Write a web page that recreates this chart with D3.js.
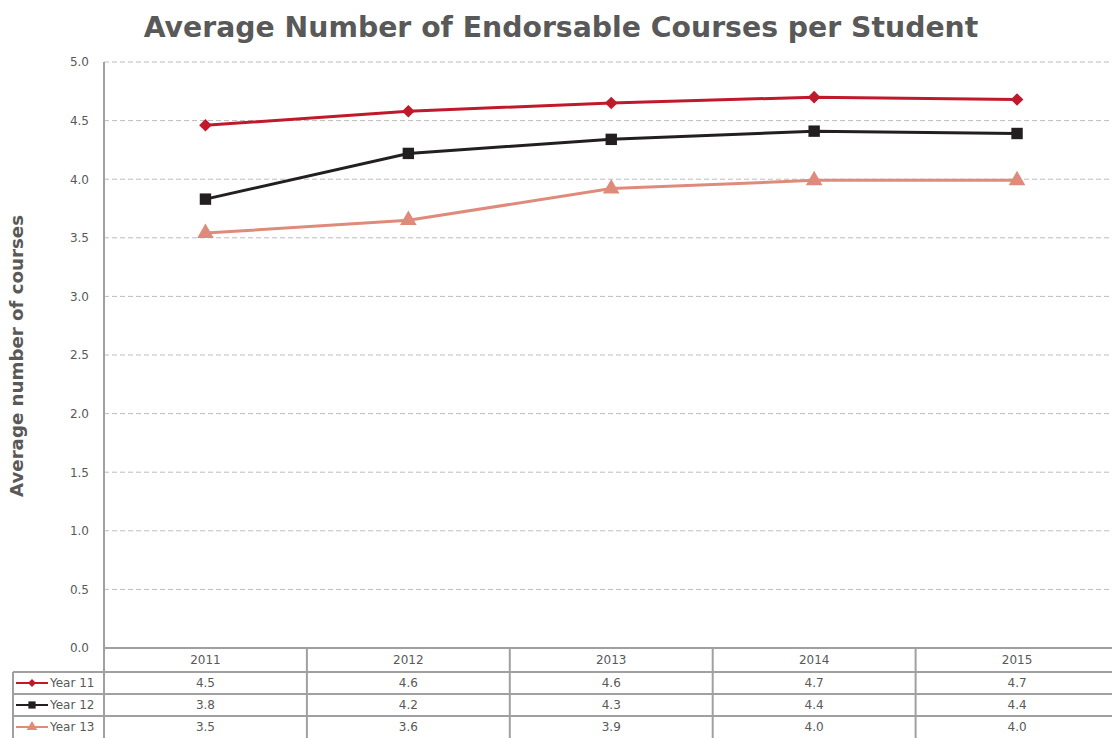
<!DOCTYPE html>
<html><head><meta charset="utf-8">
<script src="https://cdn.jsdelivr.net/npm/d3@7"></script>
<style>body{margin:0;background:#fff;}svg{display:block;font-family:Verdana,"DejaVu Sans",sans-serif;}</style>
</head><body><svg id="c" width="1112" height="738"></svg>
<script>
const years = ["2011","2012","2013","2014","2015"];
const seriesNames = ["Year 11","Year 12","Year 13"];
const year11 = [4.46,4.58,4.65,4.70,4.68];
const year12 = [3.83,4.22,4.34,4.41,4.39];
const year13 = [3.54,3.65,3.92,3.99,3.99];
const tableLabels11 = ["4.5","4.6","4.6","4.7","4.7"];
const tableLabels12 = ["3.8","4.2","4.3","4.4","4.4"];
const tableLabels13 = ["3.5","3.6","3.9","4.0","4.0"];
const yTicks = [0,0.5,1,1.5,2,2.5,3,3.5,4,4.5,5];

(function(){
const colors = ["#c0192c","#231f20","#df8b7b"];
const symbols = [d3.symbolSquare, d3.symbolSquare, d3.symbolTriangle];
const rotations = [45, 0, 0];
const symSizes = [80, 130, 120];
const values = [year11, year12, year13];
const tableLabels = [tableLabels11, tableLabels12, tableLabels13];

const svg = d3.select("#c");
const pLeft = 104, pRight = 1118.5, pTop = 62, pBottom = 648;
const x = d3.scaleBand().domain(years).range([pLeft, pRight]);
const y = d3.scaleLinear().domain([0,5]).range([pBottom, pTop]);
const textCol = "#595959";

svg.append("text").attr("x", 561).attr("y", 37).attr("text-anchor","middle")
  .attr("font-size", 28.3).attr("font-weight","bold").attr("fill", textCol)
  .text("Average Number of Endorsable Courses per Student");

svg.append("text").attr("transform","translate(23,356) rotate(-90)")
  .attr("text-anchor","middle").attr("font-size",18.2).attr("font-weight","bold")
  .attr("fill", textCol).text("Average number of courses");

svg.append("g").selectAll("line").data(yTicks.filter(d=>d>0)).join("line")
  .attr("x1", pLeft).attr("x2", 1112).attr("y1", d=>y(d)).attr("y2", d=>y(d))
  .attr("stroke","#bdbdbd").attr("stroke-width",1).attr("stroke-dasharray","5,3");

const yAxis = d3.axisLeft(y).tickValues(yTicks).tickFormat(d3.format(".1f")).tickSize(0).tickPadding(15);
const ya = svg.append("g").attr("transform",`translate(${pLeft},0)`).call(yAxis);
ya.select(".domain").remove();
ya.selectAll("text").attr("font-size",12).attr("fill",textCol).attr("font-family","Verdana,'DejaVu Sans',sans-serif");

svg.append("line").attr("x1",pLeft).attr("x2",pLeft).attr("y1",pTop).attr("y2",738)
  .attr("stroke","#a0a0a0").attr("stroke-width",2);

const line = d3.line().x((d,i)=>x(years[i])+x.bandwidth()/2).y(d=>y(d));
values.forEach((vals,si)=>{
  svg.append("path").datum(vals).attr("d", line).attr("fill","none")
    .attr("stroke", colors[si]).attr("stroke-width",3);
  svg.append("g").selectAll("path").data(vals).join("path")
    .attr("d", d3.symbol().type(symbols[si]).size(symSizes[si]))
    .attr("transform",(d,i)=>`translate(${x(years[i])+x.bandwidth()/2},${y(d)}) rotate(${rotations[si]})`)
    .attr("fill", colors[si]);
});

const rowY = [648, 672, 694, 716, 738];
const tcol = "#a0a0a0";
const tg = svg.append("g");
tg.append("line").attr("x1",pLeft).attr("x2",1112).attr("y1",rowY[0]).attr("y2",rowY[0]).attr("stroke",tcol).attr("stroke-width",2);
[1,2,3].forEach(r=>{
  tg.append("line").attr("x1",13).attr("x2",1112).attr("y1",rowY[r]).attr("y2",rowY[r]).attr("stroke",tcol).attr("stroke-width",2);
});
years.forEach((yr,i)=>{
  if(i>0) tg.append("line").attr("x1",x(yr)).attr("x2",x(yr)).attr("y1",rowY[0]).attr("y2",738).attr("stroke",tcol).attr("stroke-width",2);
});
tg.append("line").attr("x1",13).attr("x2",13).attr("y1",rowY[1]).attr("y2",738).attr("stroke",tcol).attr("stroke-width",2);

tg.selectAll("text.yr").data(years).join("text").attr("class","yr")
  .attr("x", d=>x(d)+x.bandwidth()/2).attr("y", (rowY[0]+rowY[1])/2+4)
  .attr("text-anchor","middle").attr("font-size",12).attr("fill",textCol).text(d=>d);

seriesNames.forEach((name,si)=>{
  const cy = (rowY[si+1]+rowY[si+2])/2;
  tg.append("line").attr("x1",16).attr("x2",48).attr("y1",cy).attr("y2",cy).attr("stroke",colors[si]).attr("stroke-width",2);
  tg.append("path").attr("d", d3.symbol().type(symbols[si]).size(symSizes[si]*0.4))
    .attr("transform",`translate(32,${cy}) rotate(${rotations[si]})`).attr("fill",colors[si]);
  tg.append("text").attr("x",50).attr("y",cy+4).attr("font-size",12).attr("fill",textCol).text(name);
  tg.selectAll(null).data(tableLabels[si]).join("text")
    .attr("x",(d,i)=>x(years[i])+x.bandwidth()/2).attr("y",cy+4)
    .attr("text-anchor","middle").attr("font-size",12).attr("fill",textCol).text(d=>d);
});
})();
</script></body></html>
